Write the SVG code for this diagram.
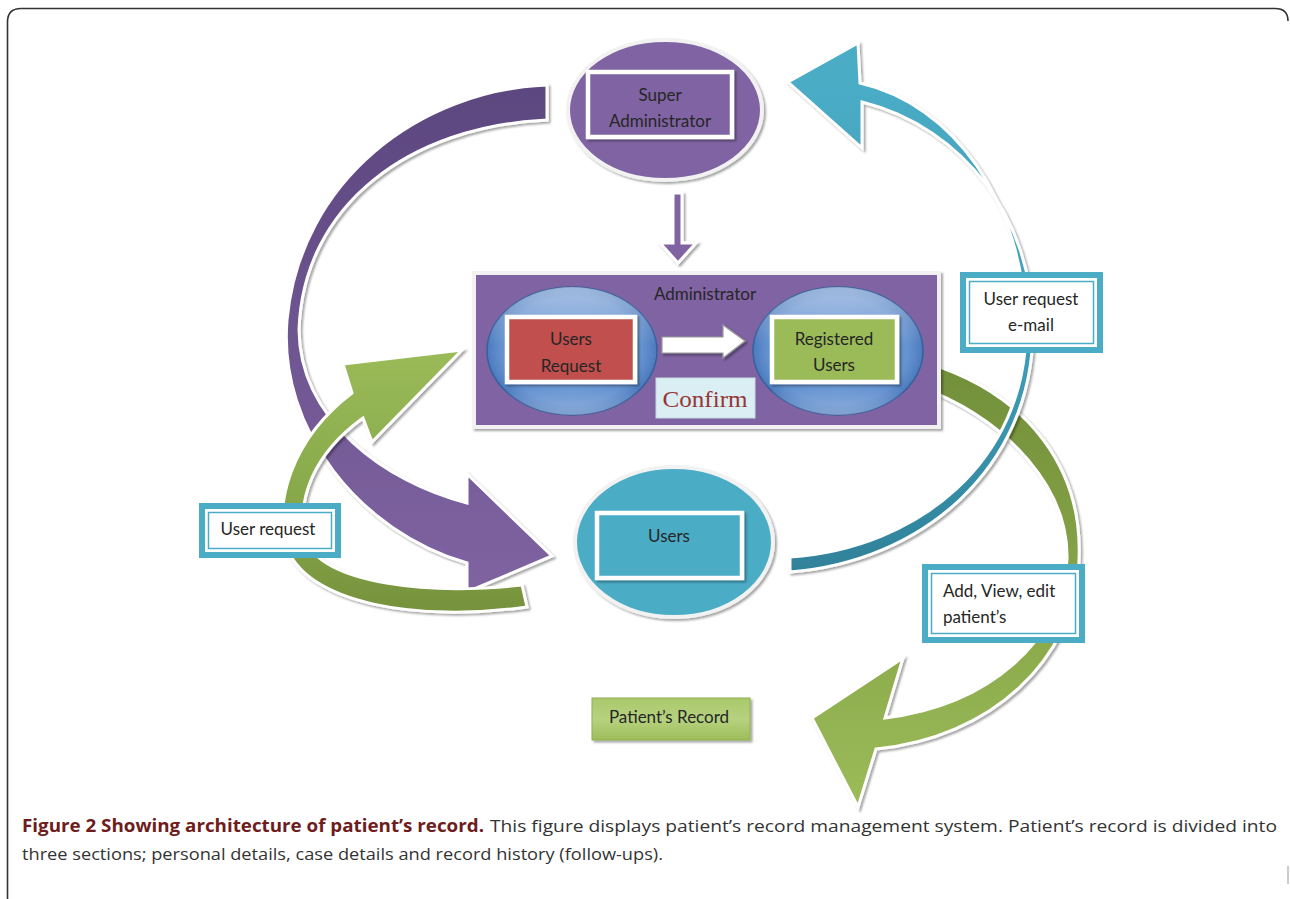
<svg xmlns="http://www.w3.org/2000/svg" width="1290" height="899" viewBox="0 0 1290 899">
<style>
.lbl{font-family:Lato,"Open Sans","Liberation Sans",sans-serif;font-size:17px;fill:#262626}
.arr{stroke:#ffffff;stroke-width:3;stroke-linejoin:miter}
.tbox{fill:#ffffff;stroke:#4bacc6;stroke-width:6}
.tin{fill:none;stroke:#4bacc6;stroke-width:1.5}
.wrect{stroke:#ffffff;stroke-width:4.5}
.cap{font-family:"Open Sans","Liberation Sans",sans-serif;font-size:17px}
</style>
<defs>
<filter id="sh" x="-20%" y="-20%" width="140%" height="140%">
<feDropShadow dx="2" dy="2" stdDeviation="1.2" flood-color="#000" flood-opacity="0.35"/>
</filter>
<linearGradient id="gPurple" gradientUnits="userSpaceOnUse" x1="0" y1="85" x2="0" y2="600">
<stop offset="0" stop-color="#5c477f"/><stop offset="1" stop-color="#8064a2"/>
</linearGradient>
<linearGradient id="gTeal" gradientUnits="userSpaceOnUse" x1="0" y1="80" x2="0" y2="575">
<stop offset="0" stop-color="#4bacc6"/><stop offset="0.6" stop-color="#3e9ab4"/><stop offset="1" stop-color="#2f8199"/>
</linearGradient>
<linearGradient id="gGreenR" gradientUnits="userSpaceOnUse" x1="0" y1="365" x2="0" y2="800">
<stop offset="0" stop-color="#728f3a"/><stop offset="0.5" stop-color="#86a447"/><stop offset="1" stop-color="#9bbb59"/>
</linearGradient>
<linearGradient id="gGreenL" gradientUnits="userSpaceOnUse" x1="0" y1="350" x2="0" y2="612">
<stop offset="0" stop-color="#9bbb59"/><stop offset="0.5" stop-color="#8aab4c"/><stop offset="1" stop-color="#76923c"/>
</linearGradient>
<radialGradient id="gBlue" cx="0.5" cy="0.5" r="0.55">
<stop offset="0" stop-color="#7fa7dd"/><stop offset="0.75" stop-color="#6592d0"/><stop offset="1" stop-color="#3d6db2"/>
</radialGradient>
<linearGradient id="gBlueHi" x1="0" y1="0" x2="0" y2="1">
<stop offset="0" stop-color="#ffffff" stop-opacity="0.45"/><stop offset="0.45" stop-color="#ffffff" stop-opacity="0"/><stop offset="0.8" stop-color="#ffffff" stop-opacity="0"/><stop offset="1" stop-color="#ffffff" stop-opacity="0.3"/>
</linearGradient>
<linearGradient id="gRec" x1="0" y1="0" x2="0" y2="1">
<stop offset="0" stop-color="#a9c86a"/><stop offset="0.5" stop-color="#b7d27f"/><stop offset="1" stop-color="#9dbd5a"/>
</linearGradient>
</defs>

<rect width="1290" height="899" fill="#ffffff"/>
<path d="M7.5,899 V22 Q7.5,8.5 21,8.5 H1275 Q1288,8.5 1288,21" fill="none" stroke="#333" stroke-width="1.6"/>
<path d="M1288,866 V884" fill="none" stroke="#999" stroke-width="1"/>

<g id="connectors">
<path id="c-super-users" class="arr" filter="url(#sh)" fill="url(#gPurple)" d="M547,85 C420,90 300,180 287,320 C278,430 360,532 467,563 L467,592 L552,556 L467,474 L467,503 C385,482 300,420 299,330 C303,205 410,126 547,120 Z"/>
<path id="c-users-admin" class="arr" filter="url(#sh)" fill="url(#gGreenL)" d="M527,607 C420,622 305,605 286,545 C274,505 290,440 352,393 L343,364 L462,350 L372,442 L363,418 C312,455 297,500 305,540 C325,585 430,595 522,585 Z"/>
<path id="c-reg-record" class="arr" filter="url(#sh)" fill="url(#gGreenR)" d="M928,363 C1030,395 1083,470 1079,560 C1076,660 990,738 876,749 L858,807 L812,718 L903,658 L885,718 C990,705 1062,640 1067,560 C1069,490 1010,420 918,386 Z"/>
<path id="c-users-super" class="arr" filter="url(#sh)" fill="url(#gTeal)" d="M790,572 C920,562 1032,470 1033,330 C1033,220 965,128 862,102 L862,148 L788,82 L858,43 L860,83 C952,104 1024,200 1026,330 C1025,460 920,548 790,557 Z"/>
<path id="c-super-admin" class="arr" filter="url(#sh)" fill="#8064a2" d="M673,193 H682 V243 H696 L678,263 L660,243 H673 Z"/>
</g>

<g id="n-super">
<ellipse cx="665" cy="110" rx="97" ry="70" fill="#8064a2" stroke="#f2f2f2" stroke-width="4" filter="url(#sh)"/>
<rect x="588" y="72" width="144" height="65" fill="#8064a2" class="wrect" filter="url(#sh)"/>
<text class="lbl" x="660" y="101" text-anchor="middle">Super</text>
<text class="lbl" x="660" y="127" text-anchor="middle">Administrator</text>
</g>

<g id="n-admin">
<rect x="474" y="273" width="465" height="154" fill="#8064a2" stroke="#f2f2f2" stroke-width="4" filter="url(#sh)"/>
<text class="lbl" x="705" y="300" text-anchor="middle">Administrator</text>
</g>

<g id="n-users-request">
<ellipse cx="572" cy="351" rx="85" ry="64" fill="url(#gBlue)" stroke="#35609d" stroke-width="1.5"/>
<ellipse cx="572" cy="351" rx="85" ry="64" fill="url(#gBlueHi)"/>
<rect x="507" y="317" width="128" height="65" fill="#c0504d" class="wrect" filter="url(#sh)"/>
<text class="lbl" x="571" y="345" text-anchor="middle">Users</text>
<text class="lbl" x="571" y="372" text-anchor="middle">Request</text>
</g>

<g id="n-confirm-arrow">
<path d="M662,337 H723 V325 L745,341 L723,358 V353 H662 Z" fill="#ffffff" stroke="#9a9a9a" stroke-width="1.2" filter="url(#sh)"/>
</g>

<g id="n-confirm">
<rect x="656" y="378" width="99" height="40" fill="#daeef3" stroke="#c4dbe2" stroke-width="1"/>
<text x="705" y="407" text-anchor="middle" font-family="'Liberation Serif','DejaVu Serif',serif" font-size="23" fill="#953735" textLength="85" lengthAdjust="spacingAndGlyphs">Confirm</text>
</g>

<g id="n-registered">
<ellipse cx="838" cy="351" rx="85" ry="64" fill="url(#gBlue)" stroke="#35609d" stroke-width="1.5"/>
<ellipse cx="838" cy="351" rx="85" ry="64" fill="url(#gBlueHi)"/>
<rect x="772" y="317" width="125" height="65" fill="#9bbb59" class="wrect" filter="url(#sh)"/>
<text class="lbl" x="834" y="345" text-anchor="middle">Registered</text>
<text class="lbl" x="834" y="371" text-anchor="middle">Users</text>
</g>

<g id="n-users">
<ellipse cx="674" cy="542" rx="99" ry="75" fill="#4bacc6" stroke="#f2f2f2" stroke-width="4" filter="url(#sh)"/>
<rect x="597" y="513" width="145" height="65" fill="#4bacc6" class="wrect" filter="url(#sh)"/>
<text class="lbl" x="669" y="542" text-anchor="middle">Users</text>
</g>

<g id="n-record">
<rect x="592" y="698" width="158" height="42" fill="url(#gRec)" stroke="#8fae50" stroke-width="1" filter="url(#sh)"/>
<text class="lbl" x="669" y="723" text-anchor="middle" font-size="16.5">Patient’s Record</text>
</g>

<g id="n-label-email">
<rect x="963" y="275" width="137" height="75" class="tbox"/>
<rect x="969.5" y="281.5" width="124" height="62" class="tin"/>
<text class="lbl" x="1031" y="305" text-anchor="middle">User request</text>
<text class="lbl" x="1031" y="331" text-anchor="middle">e-mail</text>
</g>

<g id="n-label-request">
<rect x="202" y="506" width="136" height="49" class="tbox"/>
<rect x="208.5" y="512.5" width="123" height="36" class="tin"/>
<text class="lbl" x="268" y="535" text-anchor="middle">User request</text>
</g>

<g id="n-label-add">
<rect x="925" y="567" width="157" height="73" class="tbox"/>
<rect x="931.5" y="573.5" width="144" height="60" class="tin"/>
<text class="lbl" x="943" y="597">Add, View, edit</text>
<text class="lbl" x="943" y="623">patient’s</text>
</g>

<g id="caption">
<text class="cap" x="22" y="832" font-weight="bold" fill="#6e1c1c" textLength="462" lengthAdjust="spacingAndGlyphs">Figure 2 Showing architecture of patient’s record.</text>
<text class="cap" x="490" y="832" fill="#333" textLength="787" lengthAdjust="spacingAndGlyphs">This figure displays patient’s record management system. Patient’s record is divided into</text>
<text class="cap" x="22" y="860" fill="#333" textLength="641" lengthAdjust="spacingAndGlyphs">three sections; personal details, case details and record history (follow-ups).</text>
</g>
</svg>
